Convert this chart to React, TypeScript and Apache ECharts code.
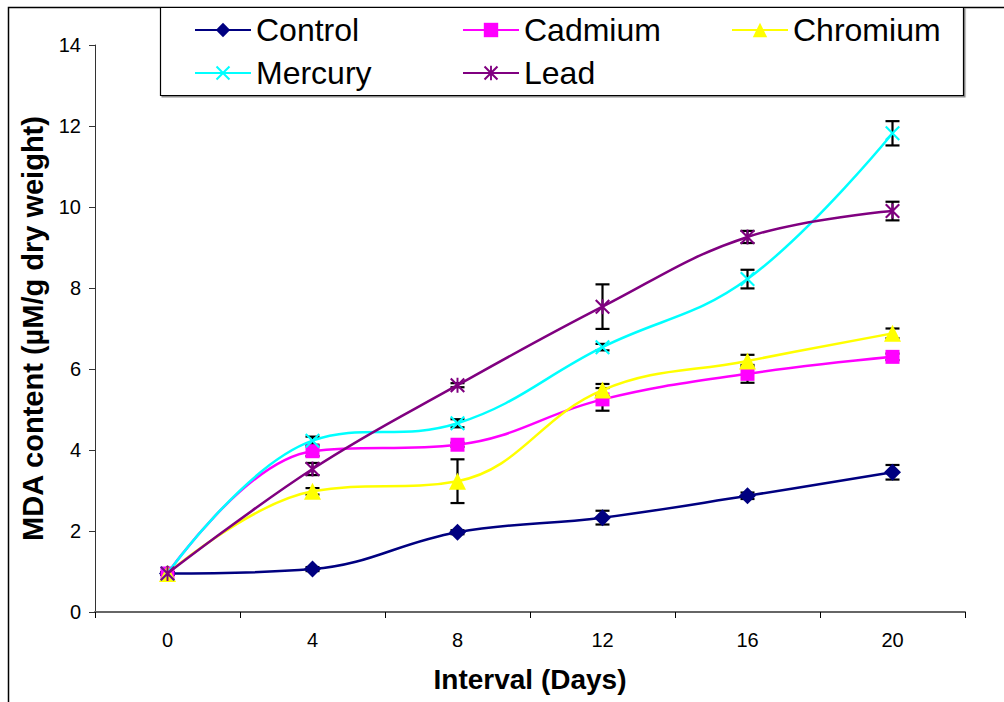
import React, { useEffect, useRef } from "react";
import * as echarts from "echarts";

const days = ["0", "4", "8", "12", "16", "20"];
const yTicks = [0, 2, 4, 6, 8, 10, 12, 14];

const control = [0.95, 1.06, 1.97, 2.33, 2.87, 3.45];
const cadmium = [0.95, 3.97, 4.13, 5.25, 5.88, 6.3];
const chromium = [0.95, 2.98, 3.23, 5.48, 6.2, 6.88];
const mercury = [0.95, 4.23, 4.66, 6.54, 8.22, 11.82];
const lead = [0.95, 3.53, 5.6, 7.54, 9.26, 9.9];

const controlErr = [0.03, 0.05, 0.05, 0.17, 0.08, 0.18];
const cadmiumErr = [0.03, 0.12, 0.05, 0.28, 0.22, 0.08];
const chromiumErr = [0.03, 0.08, 0.54, 0.15, 0.15, 0.12];
const mercuryErr = [0.03, 0.1, 0.1, 0.08, 0.23, 0.3];
const leadErr = [0.03, 0.15, 0.05, 0.55, 0.15, 0.23];

const X_PATH =
  "path://M0,1 L1,0 L5,4 L9,0 L10,1 L6,5 L10,9 L9,10 L5,6 L1,10 L0,9 L4,5 Z";
const STAR_PATH =
  "path://M0,1 L1,0 L5,4 L9,0 L10,1 L6,5 L10,9 L9,10 L5,6 L1,10 L0,9 L4,5 Z M4.35,0 L5.65,0 L5.65,10 L4.35,10 Z";

const FONT = "'Liberation Sans', Arial, sans-serif";

const seriesDefs = [
  { name: "Control", data: control, err: controlErr, color: "#000080", symbol: "diamond", size: 17 },
  { name: "Cadmium", data: cadmium, err: cadmiumErr, color: "#FF00FF", symbol: "rect", size: 14 },
  { name: "Chromium", data: chromium, err: chromiumErr, color: "#FFFF00", symbol: "triangle", size: 17 },
  { name: "Mercury", data: mercury, err: mercuryErr, color: "#00FFFF", symbol: X_PATH, size: 15 },
  { name: "Lead", data: lead, err: leadErr, color: "#800080", symbol: STAR_PATH, size: 15 },
];

export default function App() {
  const ref = useRef<HTMLDivElement>(null);
  useEffect(() => {
    if (!ref.current) return;
    const chart = echarts.init(ref.current, undefined, { renderer: "svg" });

    const errorData: number[][] = [];
    seriesDefs.forEach((s) => {
      s.data.forEach((v, i) => {
        errorData.push([i, v - s.err[i], v + s.err[i]]);
      });
    });

    const legendCommon = {
      orient: "vertical" as const,
      itemWidth: 56,
      itemHeight: 18,
      itemGap: 11,
      selectedMode: false,
      textStyle: { fontSize: 32, fontFamily: FONT, color: "#000" },
      top: 9,
    };

    const option: any = {
      animation: false,
      backgroundColor: "#fff",
      grid: { left: 95, right: 39, top: 45, bottom: 90, containLabel: false },
      legend: [
        { ...legendCommon, left: 189, data: ["Control", "Mercury"] },
        { ...legendCommon, left: 457, data: ["Cadmium", "Lead"] },
        { ...legendCommon, left: 726, data: ["Chromium"] },
      ],
      graphic: [
        {
          type: "rect",
          shape: { x: 8.5, y: 7.5, width: 1100, height: 800 },
          style: { fill: "none", stroke: "#000", lineWidth: 1.5 },
          z: -10,
          silent: true,
        },
        {
          type: "rect",
          shape: { x: 160.5, y: 7.5, width: 803, height: 88 },
          style: {
            fill: "#fff",
            stroke: "#000",
            lineWidth: 1.2,
            shadowColor: "rgba(0,0,0,0.45)",
            shadowOffsetX: 1.5,
            shadowOffsetY: 1.5,
            shadowBlur: 0,
          },
          z: -5,
          silent: true,
        },
      ],
      xAxis: {
        type: "category",
        data: days,
        boundaryGap: true,
        name: "Interval (Days)",
        nameLocation: "middle",
        nameGap: 53,
        nameTextStyle: { fontSize: 28, fontWeight: "bold", fontFamily: FONT, color: "#000" },
        axisLine: { lineStyle: { color: "#666", width: 2 } },
        axisTick: { show: true, interval: 0, length: 6, lineStyle: { color: "#000", width: 1 } },
        axisLabel: { fontSize: 20, fontFamily: FONT, color: "#000", margin: 18 },
        splitLine: { show: false },
      },
      yAxis: {
        type: "value",
        min: yTicks[0],
        max: yTicks[yTicks.length - 1],
        interval: 2,
        name: "MDA content (\u00b5M/g dry weight)",
        nameLocation: "middle",
        nameGap: 46,
        nameTextStyle: { fontSize: 29, fontWeight: "bold", fontFamily: FONT, color: "#000" },
        axisLine: { show: true, lineStyle: { color: "#333", width: 1 } },
        axisTick: { show: true, length: 6, lineStyle: { color: "#333", width: 1 } },
        axisLabel: { fontSize: 20, fontFamily: FONT, color: "#000", margin: 14 },
        splitLine: { show: false },
      },
      series: [
        {
          type: "custom",
          name: "errors",
          z: 1,
          silent: true,
          data: errorData,
          renderItem: (params: any, api: any) => {
            const x = api.value(0);
            const lo = api.coord([x, api.value(1)]);
            const hi = api.coord([x, api.value(2)]);
            const hw = 7;
            const style = { stroke: "#000", lineWidth: 2.2 };
            return {
              type: "group",
              children: [
                { type: "line", shape: { x1: lo[0], y1: lo[1], x2: hi[0], y2: hi[1] }, style },
                { type: "line", shape: { x1: lo[0] - hw, y1: lo[1], x2: lo[0] + hw, y2: lo[1] }, style },
                { type: "line", shape: { x1: hi[0] - hw, y1: hi[1], x2: hi[0] + hw, y2: hi[1] }, style },
              ],
            };
          },
        },
        ...seriesDefs.map((s, idx) => ({
          type: "line",
          name: s.name,
          data: s.data,
          smooth: 0.4,
          symbol: s.symbol,
          symbolSize: s.size,
          showAllSymbol: true,
          z: 2 + idx,
          lineStyle: { color: s.color, width: 2.5 },
          itemStyle: { color: s.color, borderWidth: 0 },
          emphasis: { disabled: true },
        })),
      ],
    };
    chart.setOption(option);
    return () => chart.dispose();
  }, []);

  return (
    <div
      ref={ref}
      style={{ position: "absolute", left: 0, top: 0, width: 1004, height: 702 }}
    />
  );
}
